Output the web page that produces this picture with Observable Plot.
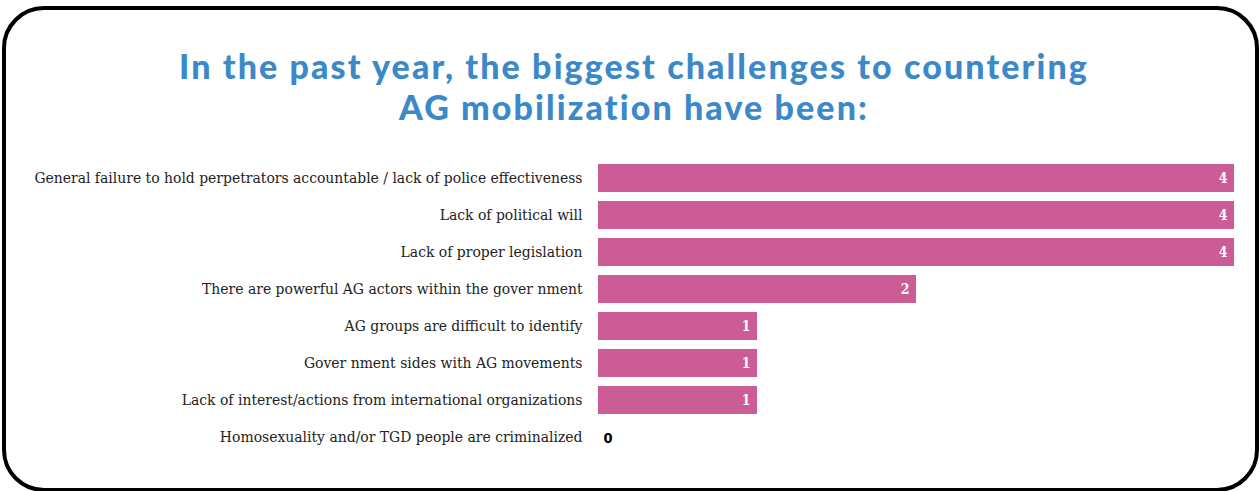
<!DOCTYPE html>
<html>
<head>
<meta charset="utf-8">
<script src="https://cdn.jsdelivr.net/npm/d3@7"></script>
<script src="https://cdn.jsdelivr.net/npm/@observablehq/plot@0.6"></script>
<style>
  html, body { margin: 0; padding: 0; background: #fff; width: 1260px; height: 491px; overflow: hidden; }
  #frame { position: absolute; left: 2px; top: 6px; width: 1257px; height: 486px; box-sizing: border-box;
           border: 4.5px solid #000; border-radius: 42px; }
  #title { position: absolute; left: 0; top: 45px; width: 1268px; text-align: center;
           font-family: Lato, sans-serif; font-weight: 900; font-size: 34px; line-height: 41px;
           letter-spacing: 2.1px; color: #3b89c9; }
  #chart { position: absolute; left: 0; top: 150px; }
</style>
</head>
<body>
<div id="frame"></div>
<div id="title">In the past year, the biggest challenges to countering<br>AG mobilization have been:</div>
<div id="chart"></div>
<script>
const categories = [
  "General failure to hold perpetrators accountable / lack of police effectiveness",
  "Lack of political will",
  "Lack of proper legislation",
  "There are powerful AG actors within the gover nment",
  "AG groups are difficult to identify",
  "Gover nment sides with AG movements",
  "Lack of interest/actions from international organizations",
  "Homosexuality and/or TGD people are criminalized"
];
const values = [4, 4, 4, 2, 1, 1, 1, 0];

const data = categories.map((c, i) => ({category: c, value: values[i]}));

const plot = Plot.plot({
  width: 1260,
  height: 316,
  marginLeft: 598,
  marginRight: 26,
  marginTop: 10,
  marginBottom: 10,
  style: {fontFamily: "'DejaVu Serif Condensed', 'DejaVu Serif', serif", fontSize: "15px", color: "#222", background: "transparent"},
  x: {domain: [0, 4], axis: null},
  y: {domain: categories, paddingInner: 0.24, paddingOuter: 0.12, label: null},
  marks: [
    Plot.barX(data, {x: "value", y: "category", fill: "#cc5c96"}),
    Plot.axisY({tickSize: 0, tickPadding: 16, fontSize: 15.5, label: null}),
    Plot.text(data.filter(d => d.value > 0), {x: "value", y: "category", text: d => String(d.value),
      textAnchor: "end", dx: -7, fill: "white", fontWeight: "bold", fontSize: 14,
      fontFamily: "'DejaVu Serif Condensed', serif"}),
    Plot.text(data.filter(d => d.value === 0), {x: "value", y: "category", text: d => String(d.value),
      textAnchor: "start", dx: 5, dy: 1, fill: "black", fontWeight: "bold", fontSize: 14.5,
      fontFamily: "'DejaVu Sans Condensed', sans-serif"})
  ]
});
document.getElementById("chart").appendChild(plot);
</script>
</body>
</html>
